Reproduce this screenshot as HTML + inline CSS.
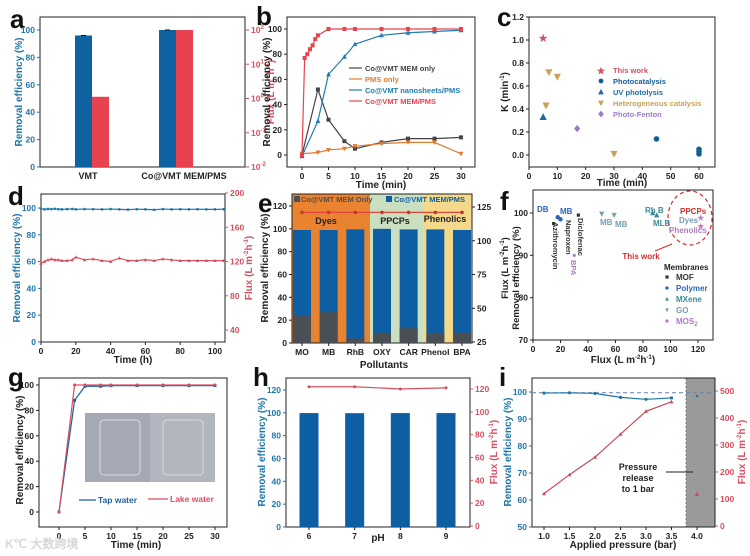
<!DOCTYPE html>
<html><head><meta charset="utf-8"><style>
html,body{margin:0;padding:0;background:#fff;}
svg{display:block;font-family:"Liberation Sans",sans-serif;font-weight:bold;}
</style></head><body>
<svg id="fig" width="750" height="556" viewBox="0 0 750 556"></svg>
<script>
// ---------- data ----------
const aCats=["VMT","Co@VMT MEM/PMS"];
const aRemoval=[96,100];
const aFluxLog=[0.05,2.0]; // log10 flux
const bTime1=[0,3,5,8,10,15,20,25,30];
const bMemOnly=[0,52,28,11,5,10,13,13,14];
const bPmsOnly=[1,2,4,5,7,9,10,10,1];
const bNano=[-1,27,64,78,88,95,97,98,99];
const bTime2=[0,0.5,1,1.5,2,2.5,3,5,8,10,15,20,25,30];
const bMemPms=[0,77,80,84,87,92,95,100,100,100,100,100,100,100];
const cThisX=[5],cThisY=[1.02];
const cPhotoX=[45,60,60,60],cPhotoY=[0.14,0.05,0.03,0.01];
const cUvX=[5],cUvY=[0.33];
const cHetX=[7,10,6,30],cHetY=[0.72,0.68,0.43,0.01];
const cFenX=[17],cFenY=[0.23];
const dTime=[0,2,4,6,8,10,12,15,18,20,25,30,35,40,45,50,55,60,65,70,75,80,85,90,95,100,105];
const dRemoval=[99.5,99,99.3,99.2,99.4,99.1,99,99.2,99.3,99,99.2,99.1,99,99.2,99,98.8,99.1,99,98.7,99.2,99,99.1,99,99.1,99,99,99.1];
const dFlux=[118,120,122,123,122,122,121,121,122,125,122,123,121,120,124,121,121,122,121,123,122,121,121,121,121,121,121];
const eCats=["MO","MB","RhB","OXY","CAR","Phenol","BPA"];
const eMemPms=[99,99,99.5,100,99.5,99.5,99];
const eMemOnly=[24,27,4,9,13,9,9];
const eFlux=[121,121,121,121,121,121,121];
const fMofX=[15,33],fMofY=[97.5,99.5];
const fPolyX=[18,20],fPolyY=[99,98.5];
const fMxX=[87,90],fMxY=[100,99.5];
const fGoX=[50,59],fGoY=[99.8,99.5];
const fMosX=[30],fMosY=[90];
const fThisX=[122,122],fThisY=[99,97];
const gTime=[0,3,5,8,10,15,20,25,30];
const gTap=[0,88,99,99,99.5,99.5,99.5,99.5,99.5];
const gLake=[0,100,100,100,100,100,100,100,100];
const hPh=[6,7,8,9];
const hRemoval=[99.8,99.7,99.8,99.8];
const hFlux=[122,122,120,121];
const iP=[1.0,1.5,2.0,2.5,3.0,3.5];
const iRemoval=[99.6,99.7,99.5,98,97.3,97.8];
const iFlux=[120,190,255,340,425,460];
const iRelRemoval=[98.5],iRelFlux=[118];

// ---------- helpers ----------
const NS="http://www.w3.org/2000/svg";
const S=document.getElementById('fig');
const BL="#0f62a0",RD="#e8424e",LB="#1f75a8",LR="#d4505f",DG="#444";
function mk(tag,at,name,parent){const e=document.createElementNS(NS,tag);for(const k in at)e.setAttribute(k,at[k]);


(parent||S).appendChild(e);return e;}
function txt(x,y,s,name,o){o=o||{};const e=mk('text',{x:x,y:y,'font-size':o.fs||9,fill:o.c||'#222','text-anchor':o.a||'middle'},name);
if(o.r)e.setAttribute('transform','rotate('+o.r+' '+x+' '+y+')');if(o.w)e.setAttribute('font-weight',o.w);
e.innerHTML=s;return e;}
function lin(d0,d1,r0,r1){return v=>r0+(v-d0)*(r1-r0)/(d1-d0);}
function box(x0,y0,x1,y1,name){mk('rect',{x:x0,y:y0,width:x1-x0,height:y1-y0,fill:'none',stroke:'#222','stroke-width':1},name);}
function yt(x,sc,vals,labels,side,col,name){vals.forEach((v,i)=>{const y=sc(v);const d=side<0?-3:3;
mk('line',{x1:x,x2:x+d,y1:y,y2:y,stroke:col,'stroke-width':1},name+'-tick');
txt(x+(side<0?-5:5),y+3,labels[i],name+'-label',{a:side<0?'end':'start',c:col,fs:8.5});});}
function xt(y,sc,vals,labels,name){vals.forEach((v,i)=>{const x=sc(v);mk('line',{x1:x,x2:x,y1:y,y2:y+3,stroke:'#222','stroke-width':1},name+'-tick');
txt(x,y+12,labels[i],name+'-label',{fs:8.5});});}
function poly(xs,ys,sx,sy,col,name,w,dash){const p=xs.map((v,i)=>sx(v)+','+sy(ys[i])).join(' ');
const e=mk('polyline',{points:p,fill:'none',stroke:col,'stroke-width':w||1.2},name);if(dash)e.setAttribute('stroke-dasharray',dash);}
function pts(xs,ys,sx,sy,col,shape,name,r){r=r||2;xs.forEach((v,i)=>{const x=sx(v),y=sy(ys[i]);
if(shape==='s')mk('rect',{x:x-r,y:y-r,width:2*r,height:2*r,fill:col},name);
else if(shape==='c')mk('circle',{cx:x,cy:y,r:r,fill:col},name);
else if(shape==='t')mk('polygon',{points:`${x},${y-r*1.3} ${x-r*1.2},${y+r} ${x+r*1.2},${y+r}`,fill:col},name);
else if(shape==='v')mk('polygon',{points:`${x},${y+r*1.3} ${x-r*1.2},${y-r} ${x+r*1.2},${y-r}`,fill:col},name);
else if(shape==='d')mk('polygon',{points:`${x},${y-r*1.4} ${x+r*1.2},${y} ${x},${y+r*1.4} ${x-r*1.2},${y}`,fill:col},name);
else if(shape==='*')txt(x,y+r*1.6,'★',name,{c:col,fs:r*4});});}
function letter(x,y,s){txt(x,y,s,'panel-label-'+s,{fs:26,a:'start',c:'#111'});}
const FLUX='Flux (L m<tspan font-size="6" dy="-4">-2</tspan><tspan dy="4">h</tspan><tspan font-size="6" dy="-4">-1</tspan><tspan dy="4">)</tspan>';

// ---------- panel a ----------
letter(10,28,'a');
box(40,17,245,167,'panel-a-frame');
const aY=lin(0,100,167,30),aR=lin(-2,2,167,30);
yt(40,aY,[0,20,40,60,80,100],['0','20','40','60','80','100'],-1,LB,'a-y-axis');
[-2,-1,0,1,2].forEach(v=>{const y=aR(v);mk('line',{x1:245,x2:249,y1:y,y2:y,stroke:LR},'a-y2-tick');
txt(251,y+3,'10<tspan font-size="6" dy="-4">'+v+'</tspan>','a-y2-label',{a:'start',c:LR,fs:8.5});});
const aX=[92,176];
aCats.forEach((c,i)=>{const x=aX[i];
mk('rect',{x:x-17,y:aY(aRemoval[i]),width:17,height:167-aY(aRemoval[i]),fill:BL},'a-bar-removal-'+i);
mk('rect',{x:x,y:aR(aFluxLog[i]),width:17,height:167-aR(aFluxLog[i]),fill:RD},'a-bar-flux-'+i);
mk('line',{x1:x-11,x2:x-6,y1:aY(aRemoval[i]),y2:aY(aRemoval[i]),stroke:'#111'},'a-errorbar');
txt(i?184:88,179,c,'a-x-label',{fs:9});});
txt(22,92,'Removal efficiency (%)','a-y-axis-title',{r:-90,c:LB,fs:10});
txt(274,92,FLUX,'a-y2-axis-title',{r:-90,c:LR,fs:10});

// ---------- panel b ----------
letter(256,25,'b');
box(287,17,475,167,'panel-b-frame');
const bX=lin(0,30,302,461),bY=lin(0,100,155,29);
yt(287,bY,[0,20,40,60,80,100],['0','20','40','60','80','100'],-1,'#222','b-y-axis');
xt(167,bX,[0,5,10,15,20,25,30],['0','5','10','15','20','25','30'],'b-x-axis');
poly(bTime1,bMemOnly,bX,bY,DG,'b-line-mem-only');pts(bTime1,bMemOnly,bX,bY,DG,'s','b-point-mem-only');
poly(bTime1,bPmsOnly,bX,bY,'#e07a30','b-line-pms-only');pts(bTime1,bPmsOnly,bX,bY,'#e07a30','v','b-point-pms-only');
poly(bTime1,bNano,bX,bY,'#1f7db0','b-line-nanosheets');pts(bTime1,bNano,bX,bY,'#1f7db0','t','b-point-nanosheets');
poly(bTime2,bMemPms,bX,bY,RD,'b-line-mem-pms');pts(bTime2,bMemPms,bX,bY,RD,'s','b-point-mem-pms');
[['Co@VMT MEM only',DG],['PMS only','#e07a30'],['Co@VMT nanosheets/PMS','#1f7db0'],['Co@VMT MEM/PMS',RD]].forEach((l,i)=>{const y=68+i*11;
mk('line',{x1:349,x2:362,y1:y,y2:y,stroke:l[1],'stroke-width':1.2},'b-legend-swatch');txt(365,y+3,l[0],'b-legend-entry',{a:'start',c:l[1],fs:7.5});});
txt(270,92,'Removal efficiency (%)','b-y-axis-title',{r:-90,fs:10});
txt(381,188,'Time (min)','b-x-axis-title',{fs:10});

// ---------- panel c ----------
letter(497,26,'c');
box(529,17,715,167,'panel-c-frame');
const cX=lin(0,60,529,699),cY=lin(0,1.2,155,17);
yt(529,cY,[0,0.2,0.4,0.6,0.8,1.0,1.2],['0.0','0.2','0.4','0.6','0.8','1.0','1.2'],-1,'#222','c-y-axis');
xt(167,cX,[0,10,20,30,40,50,60],['0','10','20','30','40','50','60'],'c-x-axis');
pts(cThisX,cThisY,cX,cY,'#d3505f','*','c-point-this-work',2.5);
pts(cPhotoX,cPhotoY,cX,cY,'#125f95','c','c-point-photocatalysis',2.8);
pts(cUvX,cUvY,cX,cY,'#1f6aa5','t','c-point-uv',3);
pts(cHetX,cHetY,cX,cY,'#c8a25a','v','c-point-heterogeneous',3);
pts(cFenX,cFenY,cX,cY,'#9b7cc5','d','c-point-photo-fenton',2.6);
[['This work','#d3505f','*'],['Photocatalysis','#125f95','c'],['UV photolysis','#1f6aa5','t'],['Heterogeneous catalysis','#c8a25a','v'],['Photo-Fenton','#9b7cc5','d']].forEach((l,i)=>{const y=70+i*11;
pts([0],[0],()=>601,()=>y,l[1],l[2],'c-legend-marker',2.4);txt(613,y+3,l[0],'c-legend-entry',{a:'start',c:l[1],fs:7.5});});
txt(508,92,'K (min<tspan font-size="6" dy="-4">-1</tspan><tspan dy="4">)</tspan>','c-y-axis-title',{r:-90,fs:10});
txt(622,186,'Time (min)','c-x-axis-title',{fs:10});

// ---------- panel d ----------
letter(8,205,'d');
box(41,194,225,342,'panel-d-frame');
const dX=lin(0,100,41,215),dY=lin(0,100,342,208),dR=lin(40,200,330,193);
yt(41,dY,[0,20,40,60,80,100],['0','20','40','60','80','100'],-1,LB,'d-y-axis');
yt(225,dR,[40,80,120,160,200],['40','80','120','160','200'],1,LR,'d-y2-axis');
xt(342,dX,[0,20,40,60,80,100],['0','20','40','60','80','100'],'d-x-axis');
poly(dTime,dRemoval,dX,dY,'#1f75a8','d-line-removal');pts(dTime,dRemoval,dX,dY,'#1f75a8','c','d-point-removal',1.3);
poly(dTime,dFlux,dX,dR,LR,'d-line-flux');pts(dTime,dFlux,dX,dR,LR,'t','d-point-flux',1.4);
txt(20,268,'Removal efficiency (%)','d-y-axis-title',{r:-90,c:LB,fs:10});
txt(252,268,FLUX,'d-y2-axis-title',{r:-90,c:LR,fs:10});
txt(133,363,'Time (h)','d-x-axis-title',{fs:10});

// ---------- panel e ----------
letter(258,212,'e');
const eX=lin(0,6,302,462),eY=lin(0,120,343,206),eR=lin(25,125,342,207);
mk('rect',{x:292,y:194,width:78,height:149,fill:'#e9832f'},'e-bg-dyes');
mk('rect',{x:370,y:194,width:53,height:149,fill:'#c9dfc0'},'e-bg-ppcps');
mk('rect',{x:423,y:194,width:49,height:149,fill:'#f4d98a'},'e-bg-phenolics');
box(292,194,472,343,'panel-e-frame');
yt(292,eY,[0,20,40,60,80,100,120],['0','20','40','60','80','100','120'],-1,'#222','e-y-axis');
yt(472,eR,[25,50,75,100,125],['25','50','75','100','125'],1,'#222','e-y2-axis');
eCats.forEach((c,i)=>{const x=eX(i);
mk('rect',{x:x-9,y:eY(eMemPms[i]),width:18,height:343-eY(eMemPms[i]),fill:'#0d5ea2'},'e-bar-mem-pms');
mk('rect',{x:x-9,y:eY(eMemOnly[i]),width:18,height:343-eY(eMemOnly[i]),fill:'#4a4f55'},'e-bar-mem-only');
mk('line',{x1:x,x2:x,y1:343,y2:346,stroke:'#222'},'e-x-tick');
txt(x,355,c,'e-x-label',{fs:8.5});});
poly(eCats.map((c,i)=>i),eFlux,eX,eR,'#e2453a','e-line-flux');pts(eCats.map((c,i)=>i),eFlux,eX,eR,'#c0392b','c','e-point-flux',1.8);
mk('rect',{x:294,y:196,width:6,height:6,fill:'#4a4f55'},'e-legend-swatch-mem-only');
txt(301,202,'Co@VMT  MEM Only','e-legend-entry',{a:'start',c:'#4a4f55',fs:7.5});
mk('rect',{x:386,y:196,width:6,height:6,fill:'#0d5ea2'},'e-legend-swatch-mem-pms');
txt(394,202,'Co@VMT MEM/PMS','e-legend-entry',{a:'start',c:'#0d5ea2',fs:7.5});
txt(326,224,'Dyes','e-group-label',{fs:9,c:'#222'});txt(395,224,'PPCPs','e-group-label',{fs:9});txt(445,222,'Phenolics','e-group-label',{fs:9});
txt(268,268,'Removal efficiency (%)','e-y-axis-title',{r:-90,fs:10});
txt(384,368,'Pollutants','e-x-axis-title',{fs:10});

// ---------- panel f ----------
letter(500,210,'f');
box(533,190,713,340,'panel-f-frame');
const fX=lin(0,120,533,698),fY=lin(70,100,340,213);
yt(533,fY,[70,80,90,100],['70','80','90','100'],-1,'#222','f-y-axis');
xt(340,fX,[0,20,40,60,80,100,120],['0','20','40','60','80','100','120'],'f-x-axis');
pts(fMofX,fMofY,fX,fY,'#333','s','f-point-mof',1.6);
pts(fPolyX,fPolyY,fX,fY,'#2b64b5','c','f-point-polymer',2.2);
pts(fMxX,fMxY,fX,fY,'#3a8a9a','t','f-point-mxene',2.2);
pts(fGoX,fGoY,fX,fY,'#7a9bb0','v','f-point-go',2.2);
pts(fMosX,fMosY,fX,fY,'#b07ac0','c','f-point-mos2',1.6);
pts(fThisX,fThisY,fX,fY,'#c080c0','*','f-point-this-work',2);
mk('ellipse',{cx:690,cy:218,rx:22,ry:27,fill:'none',stroke:'#d62a2a','stroke-width':1.2,'stroke-dasharray':'4,3'},'f-highlight-ellipse');
txt(537,212,'DB','f-label',{a:'start',c:'#2b64b5',fs:8});txt(560,214,'MB','f-label',{a:'start',c:'#2b64b5',fs:8});
txt(553,222,'Azithromycin','f-label',{r:90,a:'start',c:'#333',fs:7.5});
txt(566,220,'Naproxen','f-label',{r:90,a:'start',c:'#333',fs:7.5});
txt(578,218,'Diclofenac','f-label',{r:90,a:'start',c:'#333',fs:7.5});
txt(571,260,'BPA','f-label',{r:90,a:'start',c:'#b07ac0',fs:7.5});
txt(600,225,'MB','f-label',{a:'start',c:'#7a9bb0',fs:8});txt(615,227,'MB','f-label',{a:'start',c:'#7a9bb0',fs:8});
txt(645,213,'Rh B','f-label',{a:'start',c:'#3a8a9a',fs:8});txt(653,226,'MLB','f-label',{a:'start',c:'#3a8a9a',fs:8});
txt(680,214,'PPCPs','f-label',{a:'start',c:'#d62a2a',fs:8});txt(679,223,'Dyes','f-label',{a:'start',c:'#7a9bb0',fs:8});
txt(669,233,'Phenolics','f-label',{a:'start',c:'#b07ac0',fs:8});
txt(641,259,'This work','f-label',{a:'middle',c:'#d62a2a',fs:8});
mk('line',{x1:655,x2:672,y1:251,y2:244,stroke:'#d62a2a'},'f-arrow');
txt(664,270,'Membranes','f-legend-title',{a:'start',fs:8});
[['MOF','#333','s'],['Polymer','#2b64b5','c'],['MXene','#3a8a9a','t'],['GO','#7a9bb0','v'],['MOS<tspan font-size="6" dy="2">2</tspan>','#b07ac0','c']].forEach((l,i)=>{const y=277+i*11;
pts([0],[0],()=>667,()=>y,l[1],l[2],'f-legend-marker',1.6);txt(676,y+3,l[0],'f-legend-entry',{a:'start',c:l[1],fs:8});});
txt(519,278,'Removal efficiency (%)','f-y-axis-title',{r:-90,fs:9.5});
txt(508,268,FLUX,'e-y2-axis-title',{r:-90,fs:9.5});
txt(623,363,FLUX,'f-x-axis-title',{fs:10});

// ---------- panel g ----------
letter(8,386,'g');
box(39,378,227,527,'panel-g-frame');
const gX=lin(0,30,59,215),gY=lin(0,100,512,385);
yt(39,gY,[0,20,40,60,80,100],['0','20','40','60','80','100'],-1,'#222','g-y-axis');
xt(527,gX,[0,5,10,15,20,25,30],['0','5','10','15','20','25','30'],'g-x-axis');
mk('rect',{x:85,y:413,width:130,height:69,fill:'#a4a9b3'},'g-inset-photo');
mk('rect',{x:150,y:413,width:65,height:69,fill:'#b2b6bf'},'g-inset-photo-right');
mk('rect',{x:100,y:420,width:40,height:55,rx:4,fill:'none',stroke:'#d8dbe0'},'g-beaker-tap');
mk('rect',{x:163,y:420,width:40,height:55,rx:4,fill:'none',stroke:'#d8dbe0'},'g-beaker-lake');
poly(gTime,gTap,gX,gY,'#1d5f9a','g-line-tap');pts(gTime,gTap,gX,gY,'#1d5f9a','s','g-point-tap',1.5);
poly(gTime,gLake,gX,gY,'#d3505f','g-line-lake');pts(gTime,gLake,gX,gY,'#d3505f','c','g-point-lake',1.5);
mk('line',{x1:79,x2:96,y1:500,y2:500,stroke:'#1d5f9a','stroke-width':1.3},'g-legend-swatch-tap');
txt(98,503,'Tap water','g-legend-entry',{a:'start',c:'#1d5f9a',fs:8.5});
mk('line',{x1:148,x2:168,y1:499,y2:499,stroke:'#d3505f','stroke-width':1.3},'g-legend-swatch-lake');
txt(170,502,'Lake water','g-legend-entry',{a:'start',c:'#d3505f',fs:8.5});
txt(23,450,'Removal efficiency (%)','g-y-axis-title',{r:-90,fs:10});
txt(136,548,'Time (min)','g-x-axis-title',{fs:10});
txt(5,548,'K℃ 大数跨境','watermark',{a:'start',c:'#d8d8d8',fs:12});

// ---------- panel h ----------
letter(253,386,'h');
box(286,378,470,527,'panel-h-frame');
const hX=lin(6,9,309,446),hY=lin(0,120,527,390),hR=lin(0,120,526,389);
yt(286,hY,[0,20,40,60,80,100,120],['0','20','40','60','80','100','120'],-1,LB,'h-y-axis');
yt(470,hR,[0,20,40,60,80,100,120],['0','20','40','60','80','100','120'],1,LR,'h-y2-axis');
xt(527,hX,hPh,hPh.map(String),'h-x-axis');
hPh.forEach((p,i)=>{mk('rect',{x:hX(p)-9.5,y:hY(hRemoval[i]),width:19,height:527-hY(hRemoval[i]),fill:'#0d5ea2'},'h-bar-removal');});
poly(hPh,hFlux,hX,hR,LR,'h-line-flux');pts(hPh,hFlux,hX,hR,LR,'c','h-point-flux',1.5);
txt(265,452,'Removal efficiency (%)','h-y-axis-title',{r:-90,c:LB,fs:10});
txt(497,452,FLUX,'h-y2-axis-title',{r:-90,c:LR,fs:10});
txt(378,541,'pH','h-x-axis-title',{fs:10});

// ---------- panel i ----------
letter(499,386,'i');
const iX=lin(1,4,544,697),iY=lin(50,100,527,392),iR=lin(0,500,526,391);
mk('rect',{x:686,y:378,width:29,height:149,fill:'#9a9a9a'},'i-release-region');
mk('line',{x1:686,x2:686,y1:378,y2:527,stroke:'#6a7fa8','stroke-dasharray':'2,2'},'i-release-divider');
box(532,378,715,527,'panel-i-frame');
mk('line',{x1:532,x2:715,y1:iY(99.7),y2:iY(99.7),stroke:'#6a7fa8','stroke-dasharray':'4,3'},'i-reference-line');
yt(532,iY,[50,60,70,80,90,100],['50','60','70','80','90','100'],-1,LB,'i-y-axis');
yt(715,iR,[0,100,200,300,400,500],['0','100','200','300','400','500'],1,LR,'i-y2-axis');
xt(527,iX,[1,1.5,2,2.5,3,3.5,4],['1.0','1.5','2.0','2.5','3.0','3.5','4.0'],'i-x-axis');
poly(iP,iRemoval,iX,iY,'#1f75a8','i-line-removal');pts(iP,iRemoval,iX,iY,'#1f75a8','c','i-point-removal',1.6);
poly(iP,iFlux,iX,iR,'#c94a5a','i-line-flux');pts(iP,iFlux,iX,iR,'#c94a5a','t','i-point-flux',1.6);
pts([4],iRelRemoval,iX,iY,'#1f75a8','c','i-point-release-removal',1.3);
pts([4],iRelFlux,iX,iR,'#c94a5a','t','i-point-release-flux',1.8);
txt(638,470,'Pressure','i-annotation',{fs:9});txt(638,481,'release','i-annotation',{fs:9});txt(638,492,'to 1 bar','i-annotation',{fs:9});
mk('line',{x1:666,x2:693,y1:472,y2:472,stroke:'#222'},'i-annotation-arrow');
txt(511,452,'Removal efficiency (%)','i-y-axis-title',{r:-90,c:LB,fs:10});
txt(745,452,FLUX,'i-y2-axis-title',{r:-90,c:LR,fs:10});
txt(623,548,'Applied pressure (bar)','i-x-axis-title',{fs:10});
</script>
</body></html>
